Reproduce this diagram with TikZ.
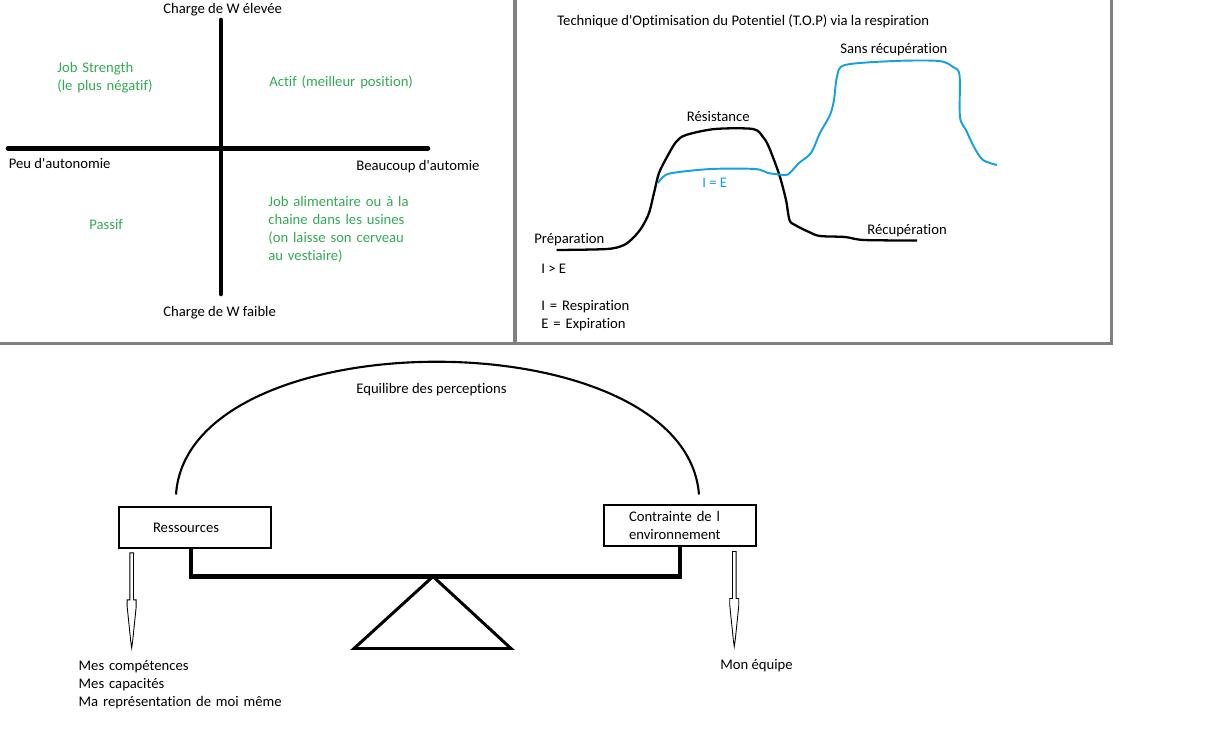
\documentclass[tikz,border=0pt]{standalone}
\usepackage{fontspec}
\setmainfont{Carlito}[Ligatures=NoCommon]

\definecolor{quadgreen}{RGB}{50,170,85}
\definecolor{breathblue}{RGB}{20,160,225}
\definecolor{panelgray}{RGB}{128,128,128}

% thin hollow arrow, drawn downwards from the given point
\newcommand{\paintarrow}[1]{\draw[hollow] #1 ++(-1.85,0) -- ++(0,47) -- ++(-2.65,0) -- ++(0,7)
    -- ++(3.5,34) -- ++(1,7) -- ++(1,-7) -- ++(3.5,-34) -- ++(0,-7) -- ++(-2.65,0) -- ++(0,-47) -- cycle;}

\begin{document}
\begin{tikzpicture}
[
    x=0.02cm, y=-0.02cm,
    every node/.style={font=\fontsize{8.35}{10.24}\selectfont},
    lbl/.style={inner sep=0pt, anchor=base west},
    quad/.style={lbl, text=quadgreen, align=left, text width=3.4cm},
    axis/.style={line width=2.6pt, line cap=round},
    frame/.style={panelgray, line width=1.6pt},
    curve/.style={line width=1.3pt, line join=round},
    box/.style={draw, line width=0.6pt, minimum width=3.04cm, minimum height=0.82cm, align=left},
    beam/.style={line width=2.3pt},
    hollow/.style={line width=0.5pt},
]
\useasboundingbox (0,0) rectangle (1208,750);

% panels
\draw[frame] (0,343.3) -- (1111.7,343.3) -- (1111.7,0);
\draw[frame, line width=2.2pt] (514.8,0) -- (514.8,343.3);

% quadrant
\draw[axis] (221,20) -- (221,294);
\draw[axis] (8,148.3) -- (428,148.3);
\node[lbl] (whigh) at (163,14) {Charge de W élevée};
\node[lbl] (wlow) at (163,316.5) {Charge de W faible};
\node[lbl] (lowaut) at (8.5,168.5) {Peu d\textquotesingle autonomie};
\node[lbl] (highaut) at (356,170.5) {Beaucoup d\textquotesingle automie};
\node[quad] (strength) at (57,72.8) {Job Strength\\(le plus négatif)};
\node[quad, text width=4cm] (actif) at (269,86.5) {Actif (meilleur position)};
\node[quad] (passif) at (89,229.5) {Passif};
\node[quad] (alim) at (268,206.5) {Job alimentaire ou à la\\chaine dans les usines\\(on laisse son cerveau\\au vestiaire)};

% respiration
\node[lbl] (title) at (557,25.2) {Technique d\textquotesingle Optimisation du Potentiel (T.O.P) via la respiration};
\draw[curve] plot[smooth, tension=0.5] coordinates {(556.5,250) (607,249) (624,245) (634,237)
    (642,227) (649,213) (654,193) (659,173) (667,157) (676,142) (686,135) (715,129) (753,129)
    (763,137) (768,145) (774,160) (780,177) (786,200) (789.5,220) (795,225) (809,232) (820,236)
    (845,237) (864,240) (917,240.5)};
\draw[curve, breathblue, line width=1.1pt] plot[smooth, tension=0.5] coordinates {(658,183)
    (663,177) (672,173) (711,169) (755,169) (768,173) (780,174.5) (788,174.5) (799,163) (811,153)
    (820,133) (830,115) (834,100) (837,77) (845,65) (895,61) (939,61) (953,67) (959.5,75)
    (960,117) (966,130) (974,147) (983,160) (997,165)};
\node[lbl] (sans) at (840,53.5) {Sans récupération};
\node[lbl] (resist) at (686.6,121.2) {Résistance};
\node[lbl] (prep) at (534,243.2) {Préparation};
\node[lbl] (recup) at (867,234.5) {Récupération};
\node[lbl, text=breathblue] (ie) at (702,187.2) {I = E};
\node[lbl] (igte) at (541,273.8) {I > E};
\node[lbl, align=left, text width=3cm] (defs) at (541,310.5) {I = Respiration\\E = Expiration};

% balance
\node[lbl] (equi) at (356,393.8) {Equilibre des perceptions};
\node[box, text width=1.68cm, inner xsep=0.68cm] (res) at (195,527.5) {Ressources};
\node[box, text width=2.04cm, inner xsep=0.5cm] (contr) at (680,525.5) {Contrainte de l\\environnement};
\draw[line width=1.2pt] ([shift={(-19,-12)}]res.north) .. controls +(12,-177) and +(-14,-177) .. ([shift={(19,-10)}]contr.north);
\coordinate (pivot) at (433,576.5);
\draw[beam] ([xshift=-0.08cm]res.south) |- (pivot) -| (contr.south);
\draw[line width=1.7pt] (pivot) -- (354,648.5) -- (511,648.5) -- cycle;
\paintarrow{(res.south west) ++(13.2,4.3)}
\paintarrow{(contr.south west) ++(130.8,5)}
\node[lbl, align=left, text width=5cm] (skills) at (78.3,670.5) {Mes compétences\\Mes capacités\\Ma représentation de moi même};
\node[lbl] (team) at (720,669.5) {Mon équipe};
\end{tikzpicture}
\end{document}
